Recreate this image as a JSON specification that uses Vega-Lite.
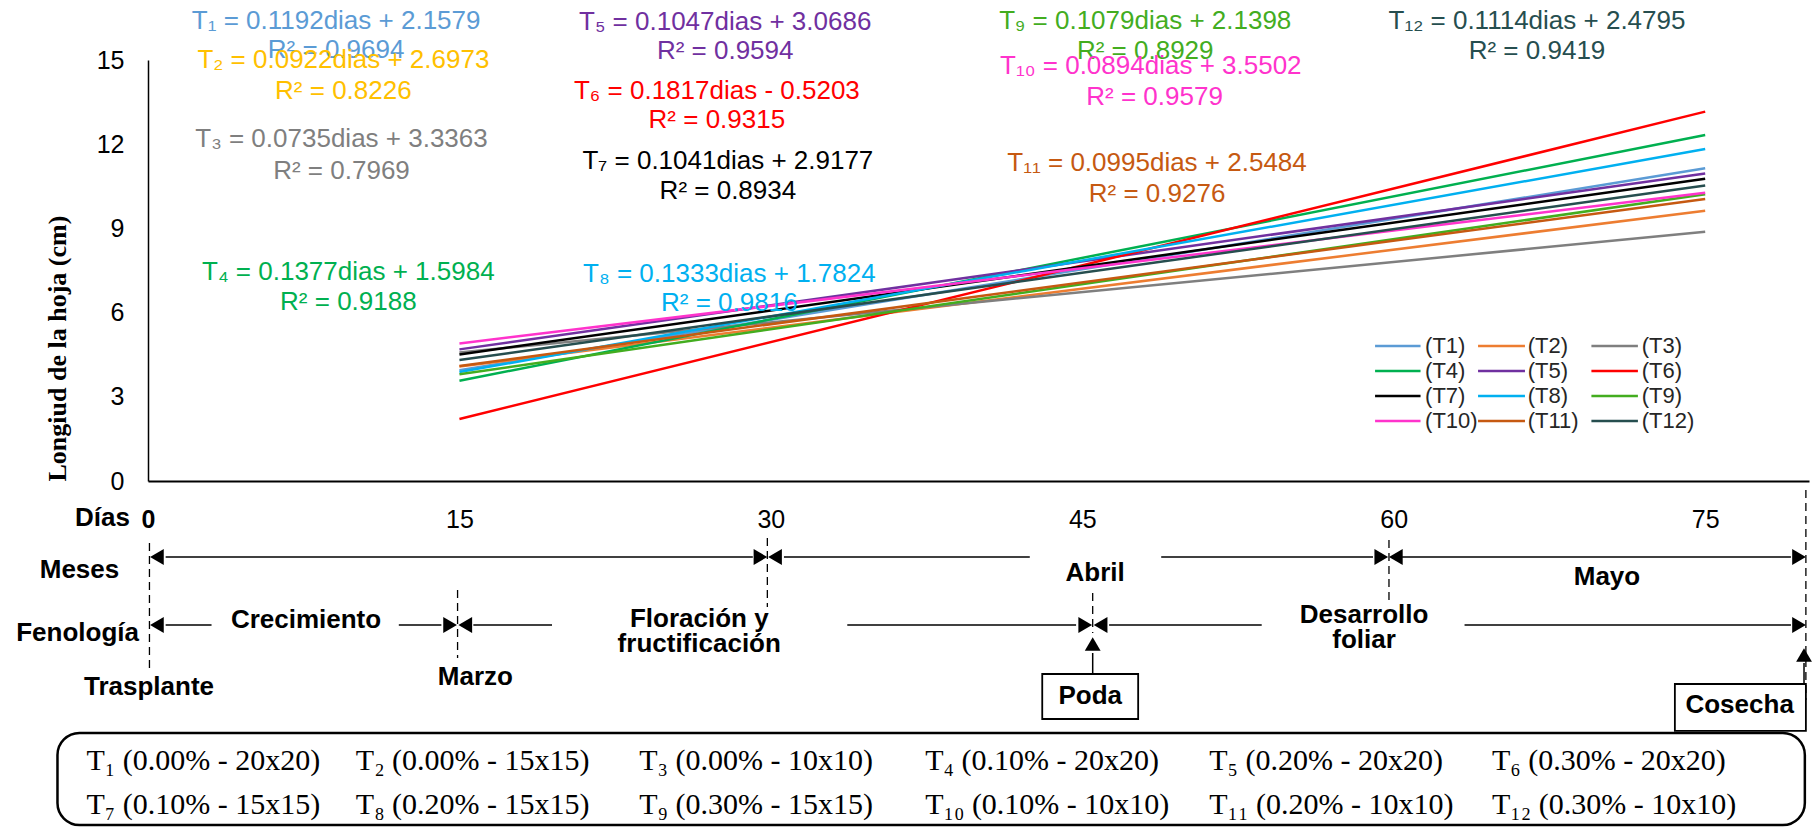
{
  "$schema": "https://vega.github.io/schema/vega-lite/v6.json",
  "autosize": {"type": "none"},
  "padding": {"left": 148, "top": 60, "right": 6, "bottom": 346},
  "width": 1661,
  "height": 421,
  "background": "white",
  "config": {"view": {"stroke": null}, "font": "Liberation Sans"},
  "datasets": {
    "lines": [
      {"T": "T1", "dia": 15, "cm": 3.95}, {"T": "T1", "dia": 75, "cm": 11.14},
      {"T": "T2", "dia": 15, "cm": 4.08}, {"T": "T2", "dia": 75, "cm": 9.63},
      {"T": "T3", "dia": 15, "cm": 4.58}, {"T": "T3", "dia": 75, "cm": 8.88},
      {"T": "T4", "dia": 15, "cm": 3.57}, {"T": "T4", "dia": 75, "cm": 12.33},
      {"T": "T5", "dia": 15, "cm": 4.69}, {"T": "T5", "dia": 75, "cm": 10.96},
      {"T": "T6", "dia": 15, "cm": 2.21}, {"T": "T6", "dia": 75, "cm": 13.16},
      {"T": "T7", "dia": 15, "cm": 4.51}, {"T": "T7", "dia": 75, "cm": 10.77},
      {"T": "T8", "dia": 15, "cm": 3.88}, {"T": "T8", "dia": 75, "cm": 11.83},
      {"T": "T9", "dia": 15, "cm": 3.80}, {"T": "T9", "dia": 75, "cm": 10.22},
      {"T": "T10", "dia": 15, "cm": 4.90}, {"T": "T10", "dia": 75, "cm": 10.27},
      {"T": "T11", "dia": 15, "cm": 4.10}, {"T": "T11", "dia": 75, "cm": 10.05},
      {"T": "T12", "dia": 15, "cm": 4.31}, {"T": "T12", "dia": 75, "cm": 10.53}
    ],
    "leg": [
      {"T": "T1", "dia": 59.1, "dia2": 61.29, "tx": 61.51, "cm": 4.809, "txt": "(T1)"},
      {"T": "T2", "dia": 64.06, "dia2": 66.32, "tx": 66.45, "cm": 4.809, "txt": "(T2)"},
      {"T": "T3", "dia": 69.52, "dia2": 71.76, "tx": 71.94, "cm": 4.809, "txt": "(T3)"},
      {"T": "T4", "dia": 59.1, "dia2": 61.29, "tx": 61.51, "cm": 3.919, "txt": "(T4)"},
      {"T": "T5", "dia": 64.06, "dia2": 66.32, "tx": 66.45, "cm": 3.919, "txt": "(T5)"},
      {"T": "T6", "dia": 69.52, "dia2": 71.76, "tx": 71.94, "cm": 3.919, "txt": "(T6)"},
      {"T": "T7", "dia": 59.1, "dia2": 61.29, "tx": 61.51, "cm": 3.028, "txt": "(T7)"},
      {"T": "T8", "dia": 64.06, "dia2": 66.32, "tx": 66.45, "cm": 3.028, "txt": "(T8)"},
      {"T": "T9", "dia": 69.52, "dia2": 71.76, "tx": 71.94, "cm": 3.028, "txt": "(T9)"},
      {"T": "T10", "dia": 59.1, "dia2": 61.29, "tx": 61.51, "cm": 2.138, "txt": "(T10)"},
      {"T": "T11", "dia": 64.06, "dia2": 66.32, "tx": 66.45, "cm": 2.138, "txt": "(T11)"},
      {"T": "T12", "dia": 69.52, "dia2": 71.76, "tx": 71.94, "cm": 2.138, "txt": "(T12)"}
    ],
    "eqs": [
      {"T": "T1", "dia": 9.06, "cm": 16.39, "txt": "T₁ = 0.1192dias + 2.1579"},
      {"T": "T1", "dia": 9.06, "cm": 15.36, "txt": "R² = 0.9694"},
      {"T": "T2", "dia": 9.41, "cm": 15.0, "txt": "T₂ = 0.0922dias + 2.6973"},
      {"T": "T2", "dia": 9.41, "cm": 13.89, "txt": "R² = 0.8226"},
      {"T": "T3", "dia": 9.32, "cm": 12.18, "txt": "T₃ = 0.0735dias + 3.3363"},
      {"T": "T3", "dia": 9.32, "cm": 11.04, "txt": "R² = 0.7969"},
      {"T": "T4", "dia": 9.65, "cm": 7.45, "txt": "T₄ = 0.1377dias + 1.5984"},
      {"T": "T4", "dia": 9.65, "cm": 6.38, "txt": "R² = 0.9188"},
      {"T": "T5", "dia": 27.8, "cm": 16.35, "txt": "T₅ = 0.1047dias + 3.0686"},
      {"T": "T5", "dia": 27.8, "cm": 15.32, "txt": "R² = 0.9594"},
      {"T": "T6", "dia": 27.4, "cm": 13.89, "txt": "T₆ = 0.1817dias - 0.5203"},
      {"T": "T6", "dia": 27.4, "cm": 12.86, "txt": "R² = 0.9315"},
      {"T": "T7", "dia": 27.93, "cm": 11.4, "txt": "T₇ = 0.1041dias + 2.9177"},
      {"T": "T7", "dia": 27.93, "cm": 10.33, "txt": "R² = 0.8934"},
      {"T": "T8", "dia": 28.0, "cm": 7.37, "txt": "T₈ = 0.1333dias + 1.7824"},
      {"T": "T8", "dia": 28.0, "cm": 6.34, "txt": "R² = 0.9816"},
      {"T": "T9", "dia": 48.03, "cm": 16.39, "txt": "T₉ = 0.1079dias + 2.1398"},
      {"T": "T9", "dia": 48.03, "cm": 15.32, "txt": "R² = 0.8929"},
      {"T": "T10", "dia": 48.3, "cm": 14.78, "txt": "T₁₀ = 0.0894dias + 3.5502"},
      {"T": "T10", "dia": 48.48, "cm": 13.68, "txt": "R² = 0.9579"},
      {"T": "T11", "dia": 48.6, "cm": 11.33, "txt": "T₁₁ = 0.0995dias + 2.5484"},
      {"T": "T11", "dia": 48.6, "cm": 10.23, "txt": "R² = 0.9276"},
      {"T": "T12", "dia": 66.9, "cm": 16.39, "txt": "T₁₂ = 0.1114dias + 2.4795"},
      {"T": "T12", "dia": 66.9, "cm": 15.32, "txt": "R² = 0.9419"}
    ],
    "labels": [
      {"dia": -2.19, "cm": -1.318, "txt": "Días"},
      {"dia": -3.3, "cm": -3.171, "txt": "Meses"},
      {"dia": -3.39, "cm": -5.415, "txt": "Fenología"},
      {"dia": 0.05, "cm": -7.339, "txt": "Trasplante"},
      {"dia": 7.61, "cm": -4.952, "txt": "Crecimiento"},
      {"dia": 15.77, "cm": -6.983, "txt": "Marzo"},
      {"dia": 26.55, "cm": -4.916, "txt": "Floración y"},
      {"dia": 26.55, "cm": -5.807, "txt": "fructificación"},
      {"dia": 45.62, "cm": -3.278, "txt": "Abril"},
      {"dia": 45.38, "cm": -7.659, "txt": "Poda"},
      {"dia": 58.57, "cm": -4.774, "txt": "Desarrollo"},
      {"dia": 58.57, "cm": -5.665, "txt": "foliar"},
      {"dia": 70.27, "cm": -3.42, "txt": "Mayo"},
      {"dia": 76.66, "cm": -7.98, "txt": "Cosecha"}
    ],
    "hsegs": [
      {"dia": 0.85, "dia2": 29.13, "cm": -2.708},
      {"dia": 30.63, "dia2": 42.47, "cm": -2.708},
      {"dia": 48.8, "dia2": 59.0, "cm": -2.708},
      {"dia": 60.4, "dia2": 79.13, "cm": -2.708},
      {"dia": 0.85, "dia2": 3.06, "cm": -5.13},
      {"dia": 12.08, "dia2": 14.13, "cm": -5.13},
      {"dia": 15.67, "dia2": 19.46, "cm": -5.13},
      {"dia": 33.68, "dia2": 44.7, "cm": -5.13},
      {"dia": 46.29, "dia2": 53.64, "cm": -5.13},
      {"dia": 63.41, "dia2": 79.13, "cm": -5.13}
    ],
    "stems": [
      {"dia": 45.5, "cm": -6.128, "cm2": -6.876},
      {"dia": 79.76, "cm": -6.484, "cm2": -7.232}
    ],
    "dashes": [
      {"dia": 0.07, "cm": -2.209, "cm2": -6.84},
      {"dia": 14.91, "cm": -3.883, "cm2": -6.306},
      {"dia": 29.83, "cm": -2.031, "cm2": -4.489},
      {"dia": 45.5, "cm": -3.99, "cm2": -5.415},
      {"dia": 59.77, "cm": -2.102, "cm2": -4.239},
      {"dia": 79.85, "cm": -0.321, "cm2": -7.802}
    ],
    "arrows": [
      {"dia": 0.43, "cm": -2.708, "dir": "left"},
      {"dia": 29.5, "cm": -2.708, "dir": "right"},
      {"dia": 30.2, "cm": -2.708, "dir": "left"},
      {"dia": 59.4, "cm": -2.708, "dir": "right"},
      {"dia": 60.1, "cm": -2.708, "dir": "left"},
      {"dia": 79.52, "cm": -2.708, "dir": "right"},
      {"dia": 0.43, "cm": -5.13, "dir": "left"},
      {"dia": 14.55, "cm": -5.13, "dir": "right"},
      {"dia": 15.28, "cm": -5.13, "dir": "left"},
      {"dia": 45.14, "cm": -5.13, "dir": "right"},
      {"dia": 45.88, "cm": -5.13, "dir": "left"},
      {"dia": 79.52, "cm": -5.13, "dir": "right"},
      {"dia": 45.5, "cm": -5.807, "dir": "up"},
      {"dia": 79.76, "cm": -6.199, "dir": "up"}
    ],
    "boxes": [
      {"dia": 43.07, "dia2": 47.69, "cm": -6.876, "cm2": -8.479},
      {"dia": 73.54, "dia2": 79.85, "cm": -7.232, "cm2": -8.906}
    ],
    "frame": [
      {"dia": -4.36, "dia2": 79.8, "cm": -8.978, "cm2": -12.255}
    ],
    "boxtext": [
      {"dia": -2.96, "cm": -9.975, "txt": "T₁ (0.00% - 20x20)"},
      {"dia": 10.01, "cm": -9.975, "txt": "T₂ (0.00% - 15x15)"},
      {"dia": 23.66, "cm": -9.975, "txt": "T₃ (0.00% - 10x10)"},
      {"dia": 37.43, "cm": -9.975, "txt": "T₄ (0.10% - 20x20)"},
      {"dia": 51.11, "cm": -9.975, "txt": "T₅ (0.20% - 20x20)"},
      {"dia": 64.73, "cm": -9.975, "txt": "T₆ (0.30% - 20x20)"},
      {"dia": -2.96, "cm": -11.543, "txt": "T₇ (0.10% - 15x15)"},
      {"dia": 10.01, "cm": -11.543, "txt": "T₈ (0.20% - 15x15)"},
      {"dia": 23.66, "cm": -11.543, "txt": "T₉ (0.30% - 15x15)"},
      {"dia": 37.43, "cm": -11.543, "txt": "T₁₀ (0.10% - 10x10)"},
      {"dia": 51.11, "cm": -11.543, "txt": "T₁₁ (0.20% - 10x10)"},
      {"dia": 64.73, "cm": -11.543, "txt": "T₁₂ (0.30% - 10x10)"}
    ]
  },
  "resolve": {"scale": {"color": "independent"}},
  "layer": [
    {
      "data": {"name": "lines"},
      "mark": {"type": "line", "strokeWidth": 2.5, "strokeCap": "butt"},
      "encoding": {
        "x": {"field": "dia", "type": "quantitative",
          "scale": {"domain": [0, 80], "nice": false, "zero": false},
          "axis": {"title": null, "values": [0, 15, 30, 45, 60, 75], "grid": false, "ticks": false, "tickSize": 0,
            "labelPadding": 26, "labelFontSize": 25, "labelColor": "#000000", "labelFont": "Liberation Sans",
            "labelFontWeight": {"condition": {"test": "datum.value == 0", "value": "bold"}, "value": "normal"},
            "labelFlush": false, "labelOverlap": false,
            "domainColor": "#000000", "domainWidth": 2}},
        "y": {"field": "cm", "type": "quantitative",
          "scale": {"domain": [0, 15], "nice": false},
          "axis": {"title": "Longiud de la hoja (cm)", "values": [0, 3, 6, 9, 12, 15], "grid": false, "ticks": false, "tickSize": 0,
            "labelPadding": 24, "labelFontSize": 25, "labelColor": "#000000", "labelFont": "Liberation Sans",
            "domainColor": "#000000", "domainWidth": 1.5,
            "titleFont": "Liberation Serif", "titleFontWeight": "bold", "titleFontSize": 26, "titleColor": "#000000",
            "titleAnchor": "start", "titlePadding": 26}},
        "color": {"field": "T", "type": "nominal", "legend": null,
          "scale": {"domain": ["T1","T2","T3","T4","T5","T6","T7","T8","T9","T10","T11","T12"],
            "range": ["#5B9BD5","#ED7D31","#7F7F7F","#00B050","#7030A0","#FF0000","#000000","#00B0F0","#43AD1F","#FF33CC","#C65911","#264E4F"]}},
        "detail": {"field": "T"}
      }
    },
    {
      "data": {"name": "leg"},
      "mark": {"type": "rule", "strokeWidth": 2.5, "strokeCap": "butt"},
      "encoding": {
        "x": {"field": "dia", "type": "quantitative"},
        "x2": {"field": "dia2"},
        "y": {"field": "cm", "type": "quantitative"},
        "color": {"field": "T", "type": "nominal", "legend": null,
          "scale": {"domain": ["T1","T2","T3","T4","T5","T6","T7","T8","T9","T10","T11","T12"],
            "range": ["#5B9BD5","#ED7D31","#7F7F7F","#00B050","#7030A0","#FF0000","#000000","#00B0F0","#43AD1F","#FF33CC","#C65911","#264E4F"]}}
      }
    },
    {
      "data": {"name": "leg"},
      "mark": {"type": "text", "fontSize": 22, "font": "Liberation Sans", "color": "#262626", "align": "left", "baseline": "middle"},
      "encoding": {
        "x": {"field": "tx", "type": "quantitative"},
        "y": {"field": "cm", "type": "quantitative"},
        "text": {"field": "txt"}
      }
    },
    {
      "data": {"name": "eqs"},
      "mark": {"type": "text", "fontSize": 26, "font": "Liberation Sans", "align": "center", "baseline": "middle"},
      "encoding": {
        "x": {"field": "dia", "type": "quantitative"},
        "y": {"field": "cm", "type": "quantitative"},
        "text": {"field": "txt"},
        "color": {"field": "T", "type": "nominal", "legend": null,
          "scale": {"domain": ["T1","T2","T3","T4","T5","T6","T7","T8","T9","T10","T11","T12"],
            "range": ["#5B9BD5","#FFC000","#7F7F7F","#00B050","#7030A0","#FF0000","#000000","#00B0F0","#43AD1F","#FF33CC","#C65911","#264E4F"]}}
      }
    },
    {
      "data": {"name": "frame"},
      "mark": {"type": "rect", "fill": null, "fillOpacity": 0, "stroke": "#000000", "strokeWidth": 2.5, "cornerRadius": 22},
      "encoding": {
        "x": {"field": "dia", "type": "quantitative"},
        "x2": {"field": "dia2"},
        "y": {"field": "cm", "type": "quantitative"},
        "y2": {"field": "cm2"}
      }
    },
    {
      "data": {"name": "dashes"},
      "mark": {"type": "rule", "stroke": "#000000", "strokeWidth": 1.3, "strokeDash": [8, 5]},
      "encoding": {
        "x": {"field": "dia", "type": "quantitative"},
        "y": {"field": "cm", "type": "quantitative"},
        "y2": {"field": "cm2"}
      }
    },
    {
      "data": {"name": "hsegs"},
      "mark": {"type": "rule", "stroke": "#000000", "strokeWidth": 1.5},
      "encoding": {
        "x": {"field": "dia", "type": "quantitative"},
        "x2": {"field": "dia2"},
        "y": {"field": "cm", "type": "quantitative"}
      }
    },
    {
      "data": {"name": "stems"},
      "mark": {"type": "rule", "stroke": "#000000", "strokeWidth": 1.5},
      "encoding": {
        "x": {"field": "dia", "type": "quantitative"},
        "y": {"field": "cm", "type": "quantitative"},
        "y2": {"field": "cm2"}
      }
    },
    {
      "data": {"name": "arrows"},
      "mark": {"type": "point", "filled": true, "fill": "#000000", "opacity": 1, "strokeWidth": 0},
      "encoding": {
        "x": {"field": "dia", "type": "quantitative"},
        "y": {"field": "cm", "type": "quantitative"},
        "shape": {"field": "dir", "type": "nominal", "legend": null,
          "scale": {"domain": ["left", "right", "up"], "range": ["triangle-left", "triangle-right", "triangle-up"]}},
        "size": {"field": "dir", "type": "nominal", "legend": null,
          "scale": {"domain": ["left", "right", "up"], "range": [250, 250, 450]}}
      }
    },
    {
      "data": {"name": "boxes"},
      "mark": {"type": "rect", "fill": "#FFFFFF", "stroke": "#000000", "strokeWidth": 1.8},
      "encoding": {
        "x": {"field": "dia", "type": "quantitative"},
        "x2": {"field": "dia2"},
        "y": {"field": "cm", "type": "quantitative"},
        "y2": {"field": "cm2"}
      }
    },
    {
      "data": {"name": "labels"},
      "mark": {"type": "text", "fontSize": 26, "fontWeight": "bold", "font": "Liberation Sans", "color": "#000000", "align": "center", "baseline": "middle"},
      "encoding": {
        "x": {"field": "dia", "type": "quantitative"},
        "y": {"field": "cm", "type": "quantitative"},
        "text": {"field": "txt"}
      }
    },
    {
      "data": {"name": "boxtext"},
      "mark": {"type": "text", "fontSize": 30, "font": "Liberation Serif", "color": "#000000", "align": "left", "baseline": "middle"},
      "encoding": {
        "x": {"field": "dia", "type": "quantitative"},
        "y": {"field": "cm", "type": "quantitative"},
        "text": {"field": "txt"}
      }
    }
  ]
}
